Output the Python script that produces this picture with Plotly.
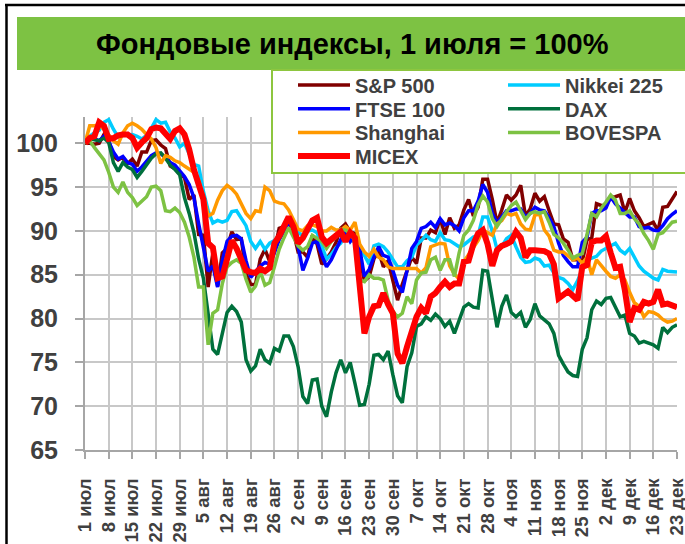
import pandas as pd
import plotly.graph_objects as go

# ---------------- data ----------------
dates = pd.bdate_range("2011-07-01", "2011-12-23").strftime("%Y-%m-%d").tolist()

tick_labels = ["1 июл", "8 июл", "15 июл", "22 июл", "29 июл", "5 авг", "12 авг",
               "19 авг", "26 авг", "2 сен", "9 сен", "16 сен", "23 сен", "30 сен",
               "7 окт", "14 окт", "21 окт", "28 окт", "4 ноя", "11 ноя", "18 ноя",
               "25 ноя", "2 дек", "9 дек", "16 дек", "23 дек"]

sp500 = [100.0, 100.0, 99.9, 100.0, 101.0, 100.3, 98.5, 98.1, 98.4, 97.7,
         98.2, 97.4, 99.0, 99.0, 100.3, 100.4, 99.8, 99.4, 97.4, 97.1,
         96.5, 96.1, 93.6, 94.1, 89.6, 89.5, 83.6, 87.5, 83.7, 87.5,
         88.0, 89.9, 89.0, 89.1, 85.1, 83.9, 83.9, 86.8, 87.9, 86.5,
         87.8, 90.3, 90.5, 91.0, 89.9, 87.6, 87.6, 87.0, 89.5, 88.5,
         86.2, 86.8, 87.6, 88.7, 90.3, 90.8, 89.9, 89.7, 87.1, 84.3,
         84.8, 86.8, 87.7, 85.9, 86.6, 84.5, 82.1, 83.9, 85.4, 87.0,
         86.3, 89.2, 89.2, 90.1, 89.8, 91.4, 89.6, 91.5, 90.3, 90.7,
         92.4, 93.6, 91.7, 92.7, 95.9, 95.9, 93.6, 90.9, 92.4, 94.1,
         93.5, 94.1, 95.2, 91.7, 92.5, 94.3, 93.4, 93.9, 92.3, 90.8,
         90.7, 89.1, 88.7, 86.7, 86.7, 86.5, 89.0, 89.2, 93.1, 92.9,
         92.9, 93.8, 93.9, 94.1, 92.1, 93.7, 92.3, 91.5, 90.5, 90.7,
         91.0, 90.0, 92.7, 92.8, 93.6, 94.5]

nikkei = [100.0, 100.8, 101.2, 101.5, 102.4, 102.7, 101.6, 100.7, 100.9, 100.9,
          101.0, 100.8, 100.5, 100.9, 101.7, 102.7, 102.3, 102.4, 101.3, 100.6,
          99.6, 100.0, 98.8, 97.6, 97.4, 94.5, 92.3, 90.9, 91.2, 91.0,
          91.2, 92.2, 92.3, 91.5, 90.6, 88.8, 88.0, 88.8, 87.9, 88.6,
          88.9, 89.4, 89.9, 91.3, 90.6, 89.8, 89.5, 90.0, 90.1, 89.8,
          88.3, 86.8, 87.3, 88.1, 88.6, 89.5, 89.0, 88.7, 88.0, 87.2,
          86.2, 88.3, 88.5, 88.2, 87.6, 86.7, 85.9, 85.9, 86.6, 87.0,
          88.4, 88.9, 89.5, 89.0, 88.8, 89.8, 89.0, 88.9, 88.5, 88.2,
          88.4, 88.9, 89.3, 89.5, 91.6, 91.6, 90.0, 87.9, 88.2, 89.1,
          89.5, 88.2, 87.0, 86.4, 86.5, 86.9, 86.7, 86.0, 86.1, 85.2,
          84.7, 84.5, 84.0, 83.3, 84.3, 85.6, 86.7, 86.9, 87.1, 87.7,
          88.0, 88.3, 88.6, 87.8, 87.4, 88.0, 87.0, 86.0, 85.4, 85.0,
          84.6, 84.4, 85.6, 85.4, 85.3, 85.3]

ftse = [100.0, 100.6, 100.5, 100.3, 100.8, 100.2, 99.0, 98.2, 98.5, 97.8,
        97.6, 96.8, 97.3, 98.0, 98.6, 98.9, 98.8, 98.4, 97.8, 97.5,
        96.8, 96.2, 95.3, 93.8, 90.8, 88.2, 85.4, 86.0, 83.6, 86.6,
        88.8, 89.4, 89.5, 89.1, 86.6, 84.7, 85.3, 86.0, 86.4, 86.2,
        87.5, 89.0, 89.9, 91.0, 90.3, 88.2, 85.5, 86.9, 88.6, 88.8,
        87.2, 85.9, 86.7, 87.8, 89.0, 89.8, 88.8, 89.5, 88.0, 84.8,
        85.6, 87.0, 88.2, 87.2, 87.0, 85.5, 83.8, 83.0, 85.3, 88.0,
        88.8, 90.3, 90.5, 91.0, 90.4, 91.4, 90.7, 90.9, 90.6, 90.0,
        91.5, 92.3, 92.3, 93.4, 95.3, 94.4, 92.0, 90.9, 91.6, 92.3,
        92.3, 92.5, 92.5, 91.6, 92.0, 92.7, 92.4, 92.3, 91.5, 90.5,
        88.6, 87.2, 86.5, 85.9, 85.9, 88.7, 89.3, 92.0, 92.3, 92.3,
        92.6, 93.9, 93.1, 92.6, 92.0, 91.6, 91.6, 90.5, 90.3, 90.4,
        90.1, 90.0, 90.6, 91.4, 91.9, 92.3]

dax = [100.0, 100.6, 100.4, 100.3, 100.6, 100.1, 97.8, 96.8, 97.8, 97.3,
       97.0, 96.1, 96.8, 97.5, 98.3, 98.8, 98.9, 98.3, 97.5, 97.0,
       96.4, 93.8, 92.0, 89.8, 86.8, 84.6, 80.5, 76.5, 75.9, 78.4,
       80.7, 81.4, 80.8, 79.6, 75.3, 74.0, 74.6, 76.5, 75.3, 74.9,
       76.6, 76.3, 78.0, 78.0, 76.8, 74.5, 71.1, 70.3, 73.0, 73.1,
       70.0, 68.8, 71.6, 73.8, 75.3, 73.8, 75.0, 72.6, 70.1, 70.2,
       72.5, 75.8, 75.9, 75.3, 76.3, 73.6, 71.2, 70.4, 74.5, 76.1,
       79.1, 79.4, 80.2, 79.8, 80.5, 80.0, 79.1, 79.7, 78.3, 79.8,
       81.3, 81.7, 81.3, 81.2, 85.5, 85.4, 82.2, 79.0, 81.4, 82.7,
       80.7, 80.2, 80.7, 79.0, 79.9, 81.7, 80.3, 79.8, 79.4, 78.3,
       75.8, 74.8, 73.9, 73.5, 73.4, 76.5, 77.8, 81.0, 82.0, 81.6,
       82.3, 82.4, 81.3, 80.2, 80.4, 78.3, 78.0, 77.2, 77.4, 77.2,
       77.0, 76.6, 79.0, 78.4, 79.0, 79.3]

shanghai = [100.0, 102.0, 102.0, 102.1, 101.6, 101.0, 100.3, 99.9, 101.2, 102.0,
            102.3, 102.0, 101.6, 101.0, 100.5, 99.5, 97.7, 98.6, 98.4, 98.0,
            97.8, 97.4, 97.0, 96.7, 95.8, 94.0, 91.7, 92.0, 93.5, 94.6,
            95.2, 94.8, 94.2, 93.0, 92.0, 91.4, 92.3, 92.2, 95.0, 94.6,
            93.4, 93.2, 93.1, 92.4, 91.3, 90.2, 90.0, 90.6, 90.7, 90.5,
            90.0, 90.0, 90.4, 90.1, 90.1, 90.5, 90.1, 91.0, 88.5, 87.6,
            87.1, 87.9, 87.0, 86.7, 85.9, 85.7, 85.7, 85.7, 85.7, 85.7,
            85.7, 85.2, 85.8, 88.2, 88.4, 88.6, 88.5, 86.0, 85.1, 84.5,
            86.5, 87.3, 88.2, 88.9, 90.1, 89.8, 89.5, 90.8, 91.2, 92.0,
            91.8, 92.0, 90.8, 90.2, 90.1, 91.8, 91.9, 90.1, 89.4, 87.8,
            87.6, 87.6, 87.2, 86.7, 86.9, 86.3, 87.0, 85.0, 86.7, 86.0,
            85.4, 84.8, 84.6, 85.0, 84.4, 83.0, 81.8, 81.4, 80.2, 80.8,
            80.7, 80.4, 79.9, 79.6, 79.7, 80.0]

bovespa = [100.0, 100.3, 99.5, 98.8, 98.1, 96.7, 95.0, 94.4, 95.6, 94.4,
           93.8, 92.9, 93.4, 93.9, 95.0, 95.1, 94.6, 92.3, 92.2, 92.6,
           92.1, 91.0, 89.3, 87.0, 83.6, 83.6, 77.0, 80.6, 81.0, 84.0,
           85.9, 86.4, 86.7, 86.3, 84.5, 83.0, 83.7, 85.4, 83.8, 84.1,
           85.9, 87.9, 89.2, 90.4, 89.3, 88.3, 87.8, 88.2, 89.5, 89.2,
           88.8, 88.0, 88.8, 89.3, 90.2, 90.1, 89.7, 88.9, 84.4, 84.2,
           85.0, 84.6, 84.6, 84.4, 82.1, 80.8, 80.2, 80.6, 82.5, 81.7,
           84.4, 85.2, 85.3, 86.7, 87.0, 85.5, 86.7, 86.7, 84.8, 87.5,
           89.5, 90.1, 91.2, 93.0, 94.0, 93.3, 91.4, 90.5, 91.4, 92.2,
           92.9, 93.3, 92.3, 91.3, 92.0, 92.2, 92.0, 92.2, 91.0, 89.6,
           89.2, 88.6, 87.8, 86.9, 87.2, 87.4, 89.6, 92.0, 91.6, 92.6,
           93.3, 94.1, 93.5, 92.0, 92.0, 92.3, 91.4, 90.8, 89.7, 88.9,
           87.9, 89.6, 89.8, 90.4, 91.0, 91.1]

micex = [100.0, 100.6, 100.8, 102.4, 102.0, 100.5, 100.6, 100.9, 101.0, 101.0,
         100.6, 99.5, 100.1, 100.6, 101.6, 101.8, 101.7, 101.2, 100.5, 101.4,
         101.7, 101.0, 99.3, 97.0, 95.3, 93.6, 88.6, 88.1, 84.6, 84.8,
         86.8, 88.9, 88.0, 86.7, 85.5, 85.3, 85.2, 85.7, 85.4, 85.8,
         88.6, 89.4, 90.5, 91.6, 90.5, 88.6, 89.2, 90.2, 91.2, 91.5,
         89.3, 88.6, 89.0, 89.6, 89.9, 88.8, 89.8, 89.2, 83.0, 78.3,
         80.2, 81.4, 81.5, 82.9, 81.6, 80.6, 76.0, 74.9, 76.8, 78.5,
         80.2, 81.2, 80.6, 82.5, 82.9, 83.6, 84.2, 83.6, 84.0, 84.0,
         86.5, 86.6, 88.5, 89.7, 90.1, 88.5, 86.0, 87.8, 88.3, 88.5,
         88.8, 89.9, 89.2, 87.0, 87.8, 87.8, 87.8, 87.7, 87.4, 86.2,
         82.3, 82.7, 83.1, 82.6, 82.1, 85.9, 86.1, 88.7, 88.9, 88.9,
         89.4, 87.5, 85.8, 85.9, 83.2, 79.6, 81.2, 81.0, 81.9, 81.7,
         81.9, 83.3, 81.6, 81.7, 81.5, 81.3]

y_ticks = [65, 70, 75, 80, 85, 90, 95, 100]

# ---------------- styling ----------------
W, H = 685, 544
PL, PR, PT, PB = 85, 677, 117, 450   # plot-area edges in pixels

def fx(x):
    return x / W

def fy(y):
    return 1 - y / H

FONT = "Liberation Sans, Arial, sans-serif"
TXT = "#404040"
GREEN = "#7DC243"

series = [
    ("S&P 500", sp500, "#800000", 3.5, (298, 0)),
    ("Nikkei 225", nikkei, "#00CCFF", 3.5, (508, 0)),
    ("FTSE 100", ftse, "#0000FF", 3.5, (298, 1)),
    ("DAX", dax, "#00703C", 3.5, (508, 1)),
    ("Shanghai", shanghai, "#FF9900", 3.5, (298, 2)),
    ("BOVESPA", bovespa, GREEN, 3.5, (508, 2)),
    ("MICEX", micex, "#FF0000", 6, (298, 3)),
]

fig = go.Figure()
layout_legends = {}
for k, (name, vals, color, lw, (lx, row)) in enumerate(series):
    key = "legend" if k == 0 else f"legend{k + 1}"
    fig.add_trace(go.Scatter(x=dates, y=vals, name=name, mode="lines",
                             line=dict(color=color, width=lw),
                             legend=key))
    yc = 86 + 23.7 * row - 1
    layout_legends[key] = dict(
        x=fx(lx - 5), y=fy(yc), xanchor="left", yanchor="middle",
        bgcolor="rgba(0,0,0,0)", borderwidth=0, itemwidth=52,
        font=dict(family=FONT, size=20, color=TXT, weight="bold"),
    )

shapes = [
    dict(type="line", xref="paper", yref="paper", x0=fx(5), x1=fx(700), y0=fy(5), y1=fy(5),
         line=dict(color="black", width=2.5), layer="above"),
    dict(type="line", xref="paper", yref="paper", x0=fx(6.5), x1=fx(6.5), y0=fy(4), y1=fy(560),
         line=dict(color="black", width=2.5), layer="above"),
    dict(type="rect", xref="paper", yref="paper", x0=fx(17), x1=fx(700), y0=fy(70), y1=fy(17),
         fillcolor=GREEN, line=dict(width=0), layer="above"),
    dict(type="rect", xref="paper", yref="paper", x0=fx(272), x1=fx(710), y0=fy(173), y1=fy(70),
         fillcolor="white", line=dict(color="#8DC63F", width=2), layer="above"),
]

fig.update_layout(
    width=W, height=H, autosize=False,
    margin=dict(l=0, r=0, t=0, b=0, pad=0),
    paper_bgcolor="white", plot_bgcolor="white",
    showlegend=True,
    shapes=shapes,
    annotations=[dict(text="Фондовые индексы, 1 июля = 100%", xref="paper", yref="paper",
                      x=fx(352), y=fy(44), xanchor="center", yanchor="middle", showarrow=False,
                      font=dict(family=FONT, size=29, color="black", weight="bold"))],
    xaxis=dict(domain=[fx(PL), fx(PR)], type="category", range=[0, len(dates) - 1],
               tickmode="array", tickvals=dates[::5], ticktext=tick_labels,
               tickangle=-90, tickfont=dict(family=FONT, size=18.5, color=TXT, weight="bold"),
               ticks="outside", ticklen=7, tickwidth=2, tickcolor="#A6A6A6",
               showgrid=True, gridcolor="#C8C8C8", gridwidth=2,
               showline=True, linecolor="#A6A6A6", linewidth=2, zeroline=False,
               ticklabelstandoff=12, automargin=False),
    yaxis=dict(domain=[fy(PB), fy(PT)], range=[65, 103], tickmode="array", tickvals=y_ticks,
               tickfont=dict(family=FONT, size=25, color=TXT, weight="bold"),
               ticks="outside", ticklen=8, tickwidth=2, tickcolor="#A6A6A6",
               showgrid=True, gridcolor="#C8C8C8", gridwidth=2,
               showline=True, linecolor="#A6A6A6", linewidth=2, zeroline=False,
               ticklabelstandoff=12, automargin=False),
    **layout_legends,
)

fig.write_html("out.html", config={"displayModeBar": False},
               post_script="document.body.style.margin='0';document.body.style.padding='0';")
